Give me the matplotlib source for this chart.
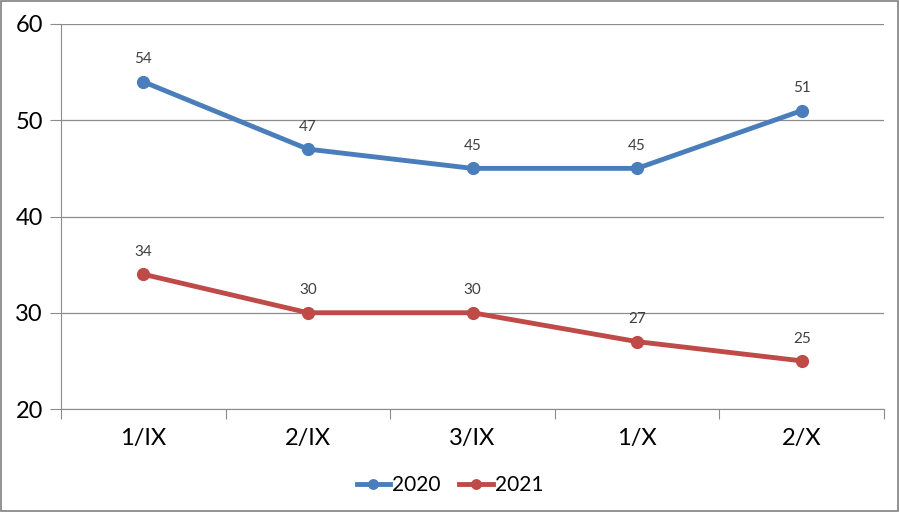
import numpy as np
import matplotlib.pyplot as plt

plt.rcParams['font.family'] = ['Lato', 'DejaVu Sans']

# data
periods = ["1/IX", "2/IX", "3/IX", "1/X", "2/X"]
y2020 = [54, 47, 45, 45, 51]
y2021 = [34, 30, 30, 27, 25]

blue = "#4A7EBB"
red = "#BE4B48"
grid_col = "#8C8C8C"

fig = plt.figure(figsize=(9, 5.12), dpi=100)
ax = fig.add_axes([61/900, 103/512, 823/900, 385/512])

x = np.arange(len(periods))
ax.plot(x, y2020, color=blue, lw=3.5, marker="o", ms=8.5, label="2020", zorder=3)
ax.plot(x, y2021, color=red, lw=3.5, marker="o", ms=8.5, label="2021", zorder=3)

for xi, v in zip(x, y2020):
    ax.annotate(str(v), (xi, v), xytext=(0, 11), textcoords="offset points",
                ha="center", va="bottom", fontsize=11, color="#404040")
for xi, v in zip(x, y2021):
    ax.annotate(str(v), (xi, v), xytext=(0, 11), textcoords="offset points",
                ha="center", va="bottom", fontsize=11, color="#404040")

ax.set_ylim(20, 60)
ax.set_xlim(-0.5, len(periods) - 0.5)
ax.set_yticks([20, 30, 40, 50, 60])
ax.yaxis.grid(True, color=grid_col, lw=0.9)
ax.set_axisbelow(True)

# category boundaries as ticks, labels in the middle
ax.set_xticks(np.arange(-0.5, len(periods)), minor=False)
ax.set_xticklabels([])
ax.set_xticks(x, minor=True)
ax.set_xticklabels(periods, minor=True, fontsize=17)
ax.tick_params(axis="x", which="major", length=7, color=grid_col, direction="out")
ax.tick_params(axis="x", which="minor", length=0, pad=14)
ax.tick_params(axis="y", length=8, color=grid_col, labelsize=17, pad=5)

for s in ["top", "right"]:
    ax.spines[s].set_visible(False)
ax.spines["left"].set_color(grid_col)
ax.spines["bottom"].set_color(grid_col)

fig.legend(loc="center", bbox_to_anchor=(0.5, 1 - 485/512), ncol=2, frameon=False,
           fontsize=15, handlelength=1.6, handletextpad=0.1, columnspacing=0.9,
           markerscale=0.8)

# outer border
fig.patches.append(plt.Rectangle((0.001, 0.002), 0.997, 0.996, transform=fig.transFigure,
                                 fill=False, edgecolor="#808080", lw=1.2))

fig.savefig("out.png", dpi=100)
